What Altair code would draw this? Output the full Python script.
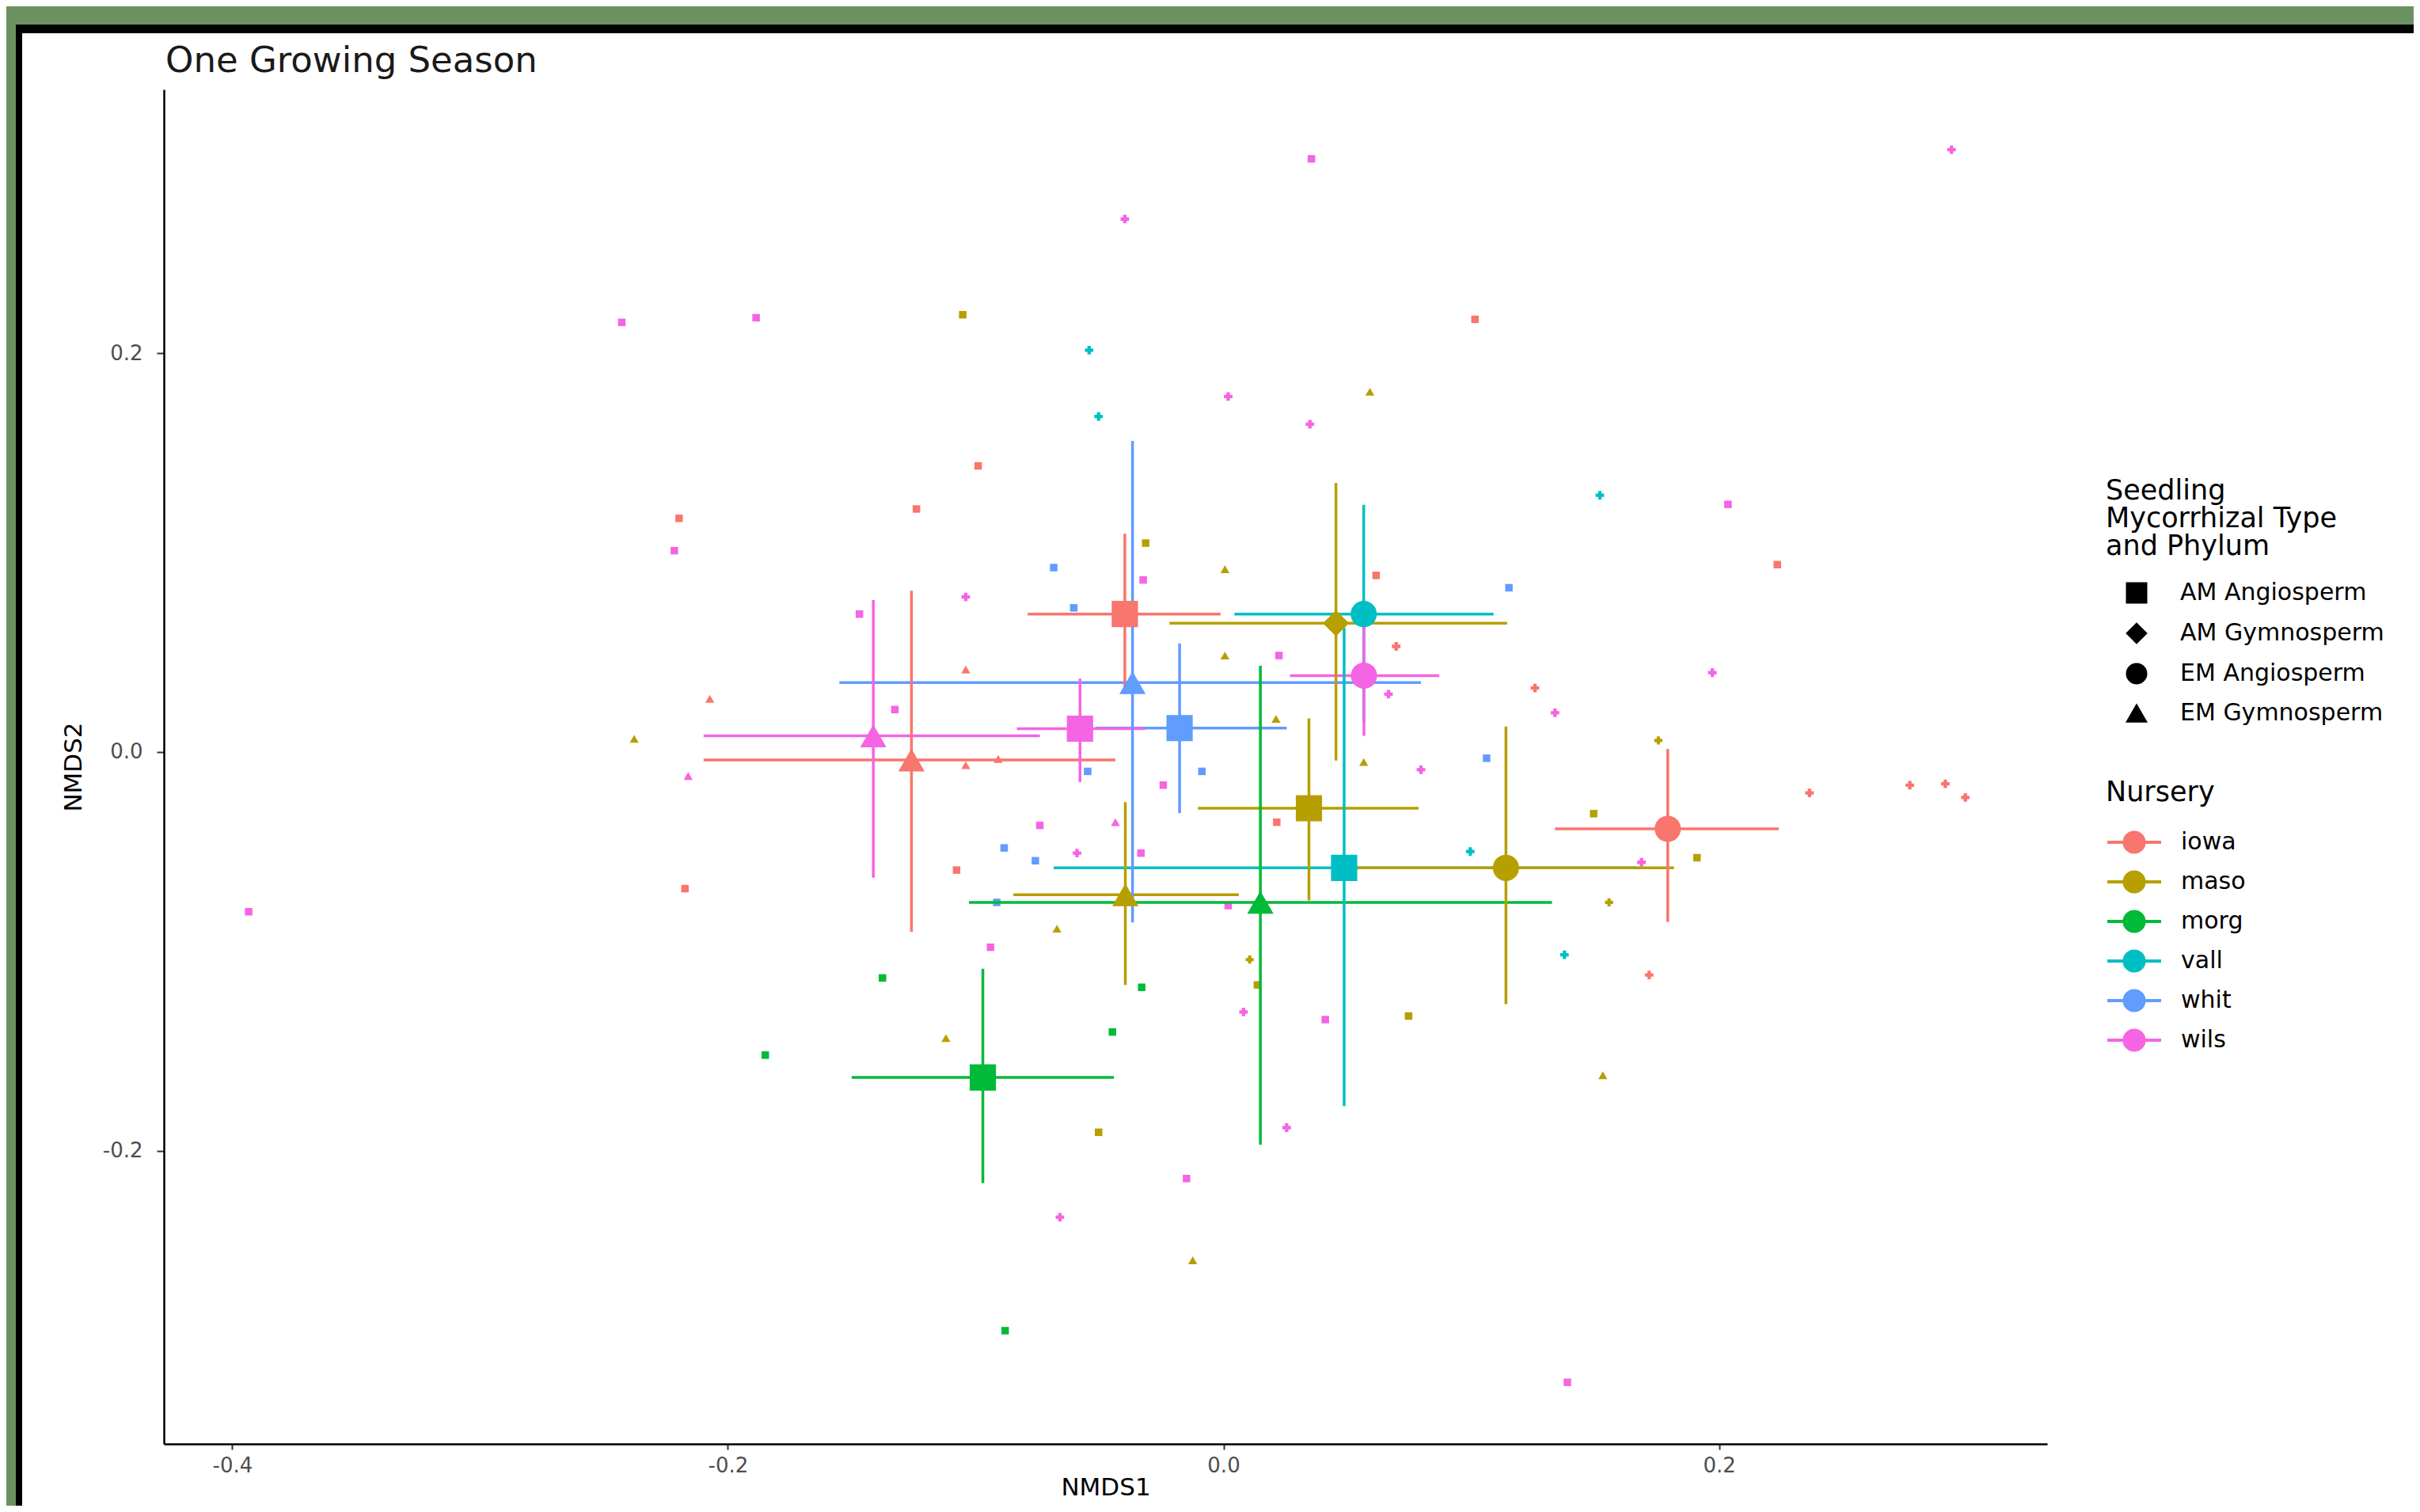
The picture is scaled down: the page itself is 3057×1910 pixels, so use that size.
import altair as alt
import pandas as pd

FONT = "DejaVu Sans"

# ---------------- texts / categories ----------------
chart_title = "One Growing Season"
nurseries = ["iowa", "maso", "morg", "vall", "whit", "wils"]
nursery_colors = ["#F8766D", "#B79F00", "#00BA38", "#00BFC4", "#619CFF", "#F564E3"]
types = ["AM Angiosperm", "AM Gymnosperm", "EM Angiosperm", "EM Gymnosperm"]

# ---------------- centroids (mean +/- error) ----------------
c_nursery = ["iowa", "maso", "vall", "wils", "whit", "whit", "wils", "wils",
             "iowa", "maso", "vall", "maso", "iowa", "maso", "morg", "morg"]
c_type = ["AM Angiosperm", "AM Gymnosperm", "EM Angiosperm", "EM Angiosperm",
          "EM Gymnosperm", "AM Angiosperm", "AM Angiosperm", "EM Gymnosperm",
          "EM Gymnosperm", "AM Angiosperm", "AM Angiosperm", "EM Angiosperm",
          "EM Angiosperm", "EM Gymnosperm", "EM Gymnosperm", "AM Angiosperm"]
c_x = [-0.0398, 0.0454, 0.0566, 0.0567, -0.0367, -0.0177, -0.0579, -0.1413,
       -0.1259, 0.0345, 0.0487, 0.1140, 0.1793, -0.0396, 0.0149, -0.0971]
c_y = [0.0692, 0.0646, 0.0692, 0.0383, 0.0348, 0.0120, 0.0117, 0.0081,
       -0.0040, -0.0282, -0.0581, -0.0581, -0.0385, -0.0716, -0.0754, -0.1632]
c_xmin = [-0.0790, -0.0218, 0.0044, 0.0268, -0.1550, -0.0517, -0.0834, -0.2098,
          -0.2098, -0.0103, -0.0685, 0.0510, 0.1338, -0.0848, -0.1027, -0.1500]
c_xmax = [-0.0012, 0.1145, 0.1090, 0.0871, 0.0797, 0.0255, -0.0317, -0.0741,
          -0.0436, 0.0787, 0.1666, 0.1818, 0.2241, 0.0062, 0.1326, -0.0442]
c_ymin = [0.0290, -0.0043, 0.0150, 0.0081, -0.0855, -0.0306, -0.0151, -0.0630,
          -0.0901, -0.0744, -0.1776, -0.1265, -0.0852, -0.1168, -0.1969, -0.2162]
c_ymax = [0.1095, 0.1350, 0.1240, 0.0677, 0.1560, 0.0545, 0.0368, 0.0762,
          0.0809, 0.0169, 0.0623, 0.0128, 0.0015, -0.0251, 0.0433, -0.1087]

# ---------------- individual samples ----------------
s_nursery = (["wils"] * 18 + ["iowa"] * 9 + ["whit"] * 9 + ["maso"] * 7 + ["morg"] * 5
             + ["wils"] * 14 + ["iowa"] * 7 + ["vall"] * 5 + ["maso"] * 3
             + ["maso"] * 10 + ["iowa"] * 4 + ["wils"] * 2)
s_type = (["AM Angiosperm"] * 48 + ["EM Angiosperm"] * 26 + ["AM Gymnosperm"] * 3
          + ["EM Gymnosperm"] * 16)
s_x = [0.0355, -0.2428, -0.1886, -0.2216, -0.0324, -0.1469, 0.0224, -0.1326, -0.0243,
       -0.0741, -0.0333, 0.0019, -0.0940, 0.0411, -0.0149, 0.1388, -0.3934, 0.2036,
       0.1015, -0.0990, -0.1239, -0.2197, 0.2235, 0.0616, -0.1077, -0.2173, 0.0215,
       0.1152, -0.0685, -0.0604, 0.1062, -0.0548, -0.0087, -0.0759, -0.0915, -0.0885,
       -0.1052, -0.0314, 0.0137, 0.0747, -0.0504, 0.1494, 0.1911,
       -0.1376, -0.0330, -0.0448, -0.0881, -0.1849,
       0.2938, -0.0398, 0.0019, 0.0349, -0.1040, 0.0666, 0.1338, 0.1973, 0.0797,
       -0.0591, 0.0081, -0.0660, 0.1687, 0.0255,
       0.0697, 0.1257, 0.1718, 0.2365, 0.2770, 0.2913, 0.2994,
       -0.0542, -0.0504, 0.1519, 0.0996, 0.1376,
       0.1755, 0.0106, 0.1556,
       0.0591, 0.0006, 0.0006, 0.0212, 0.0566, -0.0672, -0.1120, -0.0124, 0.1531, -0.2378,
       -0.1040, -0.1040, -0.0909, -0.2073,
       -0.0436, -0.2160]
s_y = [0.2975, 0.2155, 0.2178, 0.1010, 0.0863, 0.0692, 0.0484, 0.0213, -0.0166,
       -0.0368, -0.0507, -0.0770, -0.0979, -0.1342, -0.2139, -0.3161, -0.0801, 0.1242,
       0.2170, 0.1435, 0.1219, 0.1172, 0.0940, 0.0886, -0.0592, -0.0685, -0.0352,
       0.0824, 0.0925, 0.0723, -0.0031, -0.0097, -0.0097, -0.0545, -0.0754, -0.0481,
       0.2193, 0.1048, -0.1168, -0.1324, -0.1907, -0.0309, -0.0530,
       -0.1133, -0.1180, -0.1404, -0.2902, -0.1520,
       0.3021, 0.2673, 0.1783, 0.1644, 0.0778, 0.0290, 0.0197, 0.0398, -0.0089,
       -0.0507, -0.1304, -0.2333, -0.0553, -0.1884,
       0.0530, 0.0321, -0.1118, -0.0205, -0.0166, -0.0159, -0.0228,
       0.2015, 0.1683, 0.1288, -0.0499, -0.1017,
       0.0058, -0.1041, -0.0754,
       0.1807, 0.0917, 0.0484, 0.0166, -0.0050, -0.0886, -0.1435, -0.2549, -0.1621, 0.0066,
       0.0414, -0.0066, -0.0035, 0.0267,
       -0.0352, -0.0120]

x_ticks = [-0.4, -0.2, 0.0, 0.2]
y_ticks = [-0.2, 0.0, 0.2]

centroids = pd.DataFrame({"nursery": c_nursery, "type": c_type, "x": c_x, "y": c_y,
                          "xmin": c_xmin, "xmax": c_xmax, "ymin": c_ymin, "ymax": c_ymax})
samples = pd.DataFrame({"nursery": s_nursery, "type": s_type, "x": s_x, "y": s_y})

# ---------------- scales / axes ----------------
xscale = alt.Scale(domain=[-0.4276, 0.3324], nice=False, zero=False)
yscale = alt.Scale(domain=[-0.347, 0.3323], nice=False, zero=False)

# legend-carrying colour scale
color_scale = alt.Scale(domain=nurseries, range=nursery_colors)
# same mapping, listed in reverse so that its (hidden) legend is not merged with the Nursery one
fill_scale = alt.Scale(domain=nurseries[::-1], range=nursery_colors[::-1])

lab_expr = "(datum.value < 0 ? '-' : '') + format(abs(datum.value), '.1f')"

common_axis = dict(grid=False, domainColor="black", domainWidth=2.5, tickColor="#333333",
                   tickWidth=2, labelColor="#4d4d4d", labelFont=FONT, labelFontSize=26,
                   titleFont=FONT, titleFontWeight="normal",
                   titleColor="black", labelExpr=lab_expr, zindex=1)
xaxis = alt.Axis(title="NMDS1", values=x_ticks, tickSize=7, labelPadding=7,
                 titlePadding=0, titleFontSize=31, **common_axis)
yaxis = alt.Axis(title="NMDS2", values=y_ticks, tickSize=9, labelPadding=18,
                 titlePadding=20, titleFontSize=31, **common_axis)


def X(field):
    return alt.X(field, type="quantitative", scale=xscale, axis=xaxis)


def Y(field):
    return alt.Y(field, type="quantitative", scale=yscale, axis=yaxis)


def circ(r):
    return f"M{-r},0A{r},{r},0,1,0,{r},0A{r},{r},0,1,0,{-r},0"


# legend key: a horizontal line through a filled dot (dot drawn as concentric strokes)
KEY_PATH = "M-2,0L2,0" + "".join(circ(r) for r in [0.14, 0.34, 0.54, 0.74])

# ---------------- frame (decoration) + title ----------------
one = alt.Data(values=[{}])
frame_black = alt.Chart(one).mark_rect(color="black").encode(
    x=alt.value(-187), x2=alt.value(3300), y=alt.value(-82), y2=alt.value(2100))
frame_white = alt.Chart(one).mark_rect(color="white").encode(
    x=alt.value(-179), x2=alt.value(3300), y=alt.value(-71), y2=alt.value(2100))
title_text = alt.Chart(one).mark_text(
    align="left", baseline="alphabetic", font=FONT, fontSize=45, color="#1a1a1a"
).encode(x=alt.value(2), y=alt.value(-22), text=alt.value(chart_title))

# ---------------- layers ----------------
small = alt.Chart(samples).mark_point(filled=True, opacity=1).encode(
    x=X("x"), y=Y("y"),
    fill=alt.Fill("nursery:N", scale=fill_scale, legend=None),
    shape=alt.Shape("type:N", scale=alt.Scale(domain=types,
                    range=["square", "cross", "cross", "triangle-up"]), legend=None),
    size=alt.Size("type:N", scale=alt.Scale(domain=types, range=[90, 130, 130, 100]),
                  legend=None),
)

hbar = alt.Chart(centroids).mark_rule(strokeWidth=3.5).encode(
    x=X("xmin"), x2="xmax", y=Y("y"),
    color=alt.Color("nursery:N", scale=color_scale, legend=alt.Legend(
        title="Nursery", orient="none", legendX=2453, legendY=871, padding=0,
        symbolType=KEY_PATH, symbolSize=1156, symbolStrokeWidth=4, symbolOffset=17,
        labelFont=FONT, labelFontSize=30, labelColor="black", labelOffset=40,
        labelLimit=0, titleLimit=0,
        titleFont=FONT, titleFontSize=35, titleFontWeight="normal", titleColor="black",
        titlePadding=26, rowPadding=8, zindex=1)),
)

vbar = alt.Chart(centroids).mark_rule(strokeWidth=3.5).encode(
    x=X("x"), y=Y("ymin"), y2="ymax",
    stroke=alt.Stroke("nursery:N", scale=fill_scale, legend=None),
)

cent = alt.Chart(centroids).mark_point(filled=True, size=1100, opacity=1).encode(
    x=X("x"), y=Y("y"),
    fill=alt.Fill("nursery:N", scale=fill_scale, legend=None),
    shape=alt.Shape("type:N", scale=alt.Scale(domain=types,
                    range=["square", "diamond", "circle", "triangle-up"]),
                    legend=alt.Legend(
                        title=["Seedling", "Mycorrhizal Type", "and Phylum"],
                        orient="none", legendX=2453, legendY=490, padding=0,
                        symbolSize=650, symbolFillColor="black", symbolStrokeColor="black",
                        symbolOffset=24, labelOffset=40, labelLimit=0, titleLimit=0,
                        labelFont=FONT, labelFontSize=30, labelColor="black",
                        titleFont=FONT, titleFontSize=35, titleFontWeight="normal",
                        titleColor="black", titleLineHeight=35, titlePadding=26,
                        rowPadding=19, zindex=1)),
)

chart = alt.layer(frame_black, frame_white, title_text, small, hbar, vbar, cent).resolve_scale(
    shape="independent"
).properties(
    width=2379, height=1711,
    padding={"left": 199, "top": 105, "right": 463, "bottom": 78},
    autosize=alt.AutoSizeParams(type="none"),
    background="#6b9160",
).configure_view(stroke=None)

chart.save("out.html", embed_options={"renderer": "svg", "actions": False})
